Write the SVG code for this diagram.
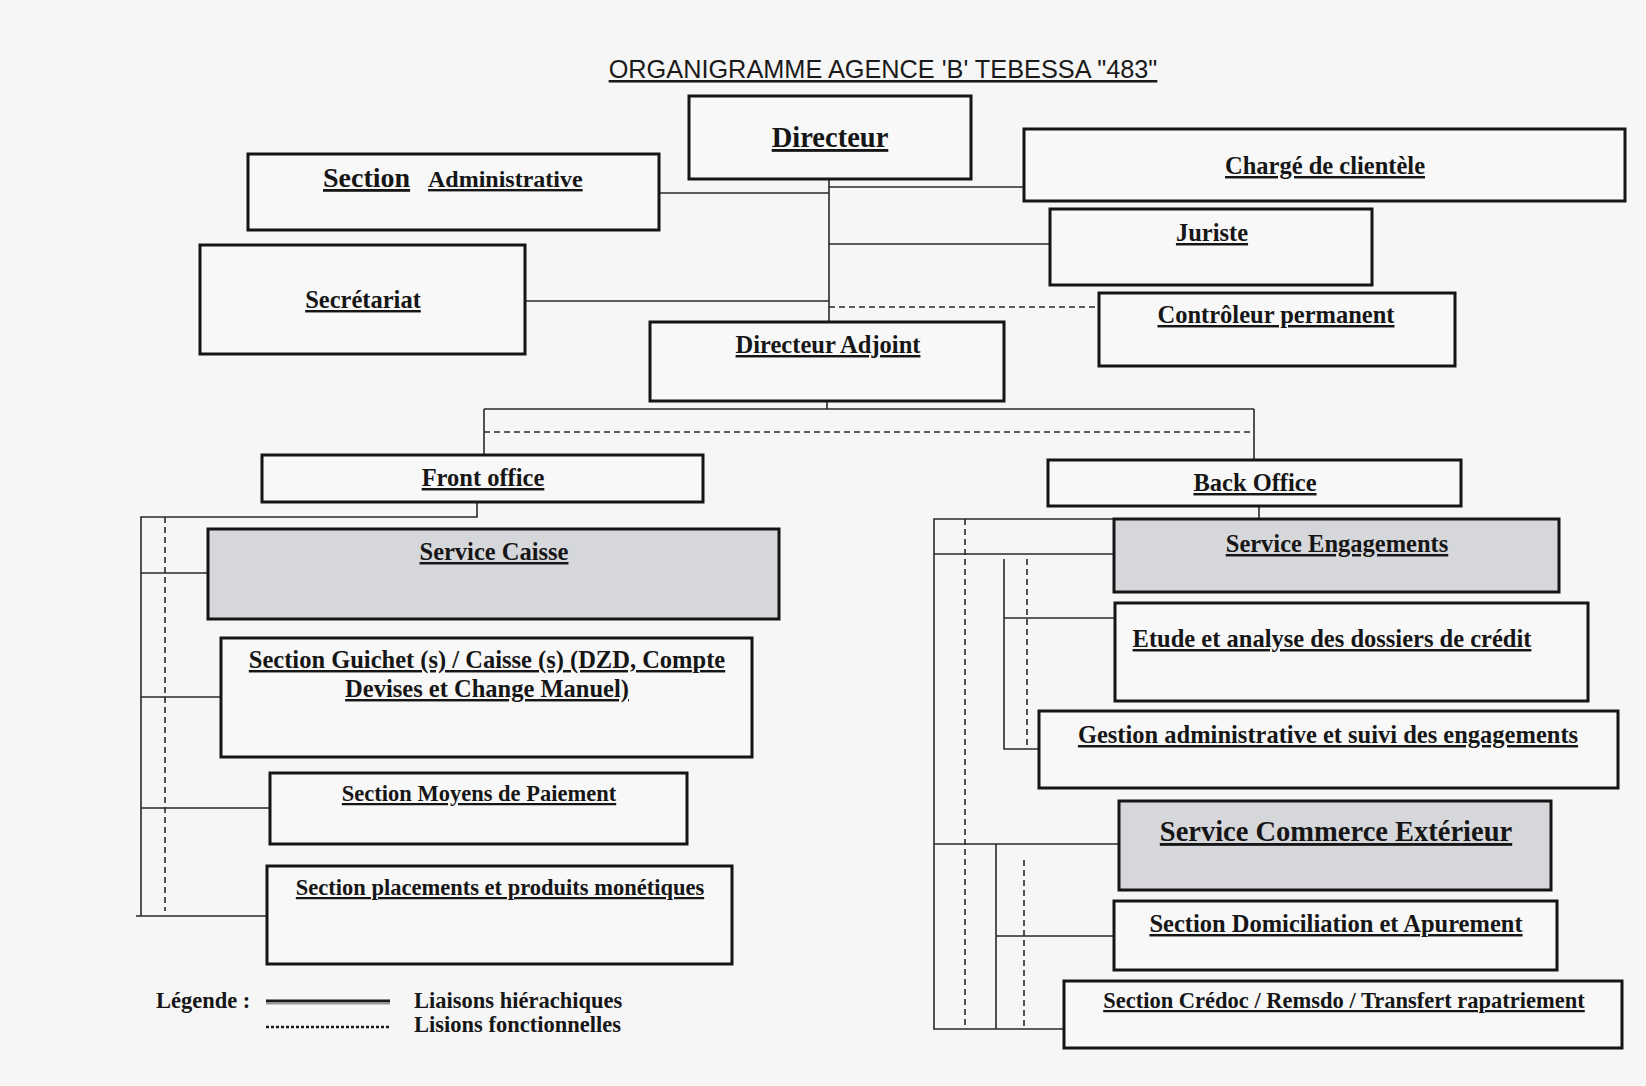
<svg xmlns="http://www.w3.org/2000/svg" width="1646" height="1086" viewBox="0 0 1646 1086">
<style>
.bg{fill:#f6f6f6}
.box{fill:#f8f8f8;stroke:#151515;stroke-width:3}
.gray{fill:#d6d7da;stroke:#151515;stroke-width:3}
.t{font-family:"Liberation Serif","Times New Roman",serif;font-weight:bold;fill:#161616;text-anchor:middle;font-size:24.5px;text-decoration:underline}
.s{font-size:22.5px}
.big{font-size:28.5px}
.title{font-family:"Liberation Sans",Arial,sans-serif;font-size:25.3px;fill:#1a1a1a;text-anchor:middle;text-decoration:underline}
.leg{font-family:"Liberation Serif","Times New Roman",serif;font-weight:bold;font-size:22.5px;fill:#161616}
.ln{stroke:#2a2a2a;stroke-width:1.6;fill:none}
.dash{stroke:#2a2a2a;stroke-width:1.6;fill:none;stroke-dasharray:6 4}
</style>
<rect class="bg" x="0" y="0" width="1646" height="1086"/>
<text class="title" x="883" y="78">ORGANIGRAMME AGENCE 'B' TEBESSA "483"</text>

<g id="connectors">
<path class="ln" d="M829 180V322M659 193H829M829 187H1024M829 244H1050M525 301H829"/>
<path class="dash" d="M829 307H1099"/>
<path class="ln" d="M827 401V409M484 409H1254M484 409V455M1254 409V460"/>
<path class="dash" d="M484 432H1254"/>
<path class="ln" d="M477 502V517H141V916M141 573H208M141 697H222M141 808H270M136 916H267"/>
<path class="dash" d="M165 517V911"/>
<path class="ln" d="M1259 506V519H934V1029H1064M934 554H1114M1004 559V749H1039M1004 618H1115M934 844H1119M996 844V1029M996 936H1114"/>
<path class="dash" d="M965 519V1029M1027 559V749M1024 860V1029"/>
</g>

<g id="directeur"><rect class="box" x="689" y="96" width="282" height="83"/><text class="t big" x="830" y="147">Directeur</text></g>
<g id="section-administrative"><rect class="box" x="248" y="154" width="411" height="76"/><text class="t" x="323" y="187" style="text-anchor:start"><tspan font-size="28px">Section</tspan><tspan font-size="24px" x="428">Administrative</tspan></text></g>
<g id="charge-clientele"><rect class="box" x="1024" y="129" width="601" height="72"/><text class="t" x="1325" y="174">Chargé de clientèle</text></g>
<g id="juriste"><rect class="box" x="1050" y="209" width="322" height="76"/><text class="t" x="1212" y="241">Juriste</text></g>
<g id="controleur"><rect class="box" x="1099" y="293" width="356" height="73"/><text class="t" x="1276" y="323">Contrôleur permanent</text></g>
<g id="secretariat"><rect class="box" x="200" y="245" width="325" height="109"/><text class="t" x="363" y="308">Secrétariat</text></g>
<g id="directeur-adjoint"><rect class="box" x="650" y="322" width="354" height="79"/><text class="t" x="828" y="353">Directeur Adjoint</text></g>
<g id="front-office"><rect class="box" x="262" y="455" width="441" height="47"/><text class="t" x="483" y="486">Front office</text></g>
<g id="back-office"><rect class="box" x="1048" y="460" width="413" height="46"/><text class="t" x="1255" y="491">Back Office</text></g>
<g id="service-caisse"><rect class="gray" x="208" y="529" width="571" height="90"/><text class="t" x="494" y="560">Service Caisse</text></g>
<g id="section-guichet"><rect class="box" x="221" y="638" width="531" height="119"/><text class="t" x="487" y="668">Section Guichet (s) / Caisse (s) (DZD, Compte</text><text class="t" x="487" y="697">Devises et Change Manuel)</text></g>
<g id="section-moyens"><rect class="box" x="270" y="773" width="417" height="71"/><text class="t s" x="479" y="801">Section Moyens de Paiement</text></g>
<g id="section-placements"><rect class="box" x="267" y="866" width="465" height="98"/><text class="t s" x="500" y="895">Section placements et produits monétiques</text></g>
<g id="service-engagements"><rect class="gray" x="1114" y="519" width="445" height="73"/><text class="t" x="1337" y="552">Service Engagements</text></g>
<g id="etude-analyse"><rect class="box" x="1115" y="603" width="473" height="98"/><text class="t" x="1332" y="647">Etude et analyse des dossiers de crédit</text></g>
<g id="gestion-administrative"><rect class="box" x="1039" y="711" width="579" height="77"/><text class="t" x="1328" y="743">Gestion administrative et suivi des engagements</text></g>
<g id="service-commerce"><rect class="gray" x="1119" y="801" width="432" height="89"/><text class="t big" x="1336" y="841">Service Commerce Extérieur</text></g>
<g id="section-domiciliation"><rect class="box" x="1114" y="901" width="443" height="69"/><text class="t" x="1336" y="932">Section Domiciliation et Apurement</text></g>
<g id="section-credoc"><rect class="box" x="1064" y="981" width="558" height="67"/><text class="t s" x="1344" y="1008">Section Crédoc / Remsdo / Transfert rapatriement</text></g>

<g id="legende">
<text class="leg" x="156" y="1008">Légende :</text>
<line x1="266" y1="1001" x2="390" y2="1001" stroke="#1a1a1a" stroke-width="3"/>
<line x1="266" y1="1003.5" x2="390" y2="1003.5" stroke="#9a9a9a" stroke-width="2"/>
<line x1="266" y1="1027" x2="390" y2="1027" stroke="#1a1a1a" stroke-width="2.5" stroke-dasharray="3 2"/>
<text class="leg" x="414" y="1008">Liaisons hiérachiques</text>
<text class="leg" x="414" y="1032">Lisions fonctionnelles</text>
</g>
</svg>
